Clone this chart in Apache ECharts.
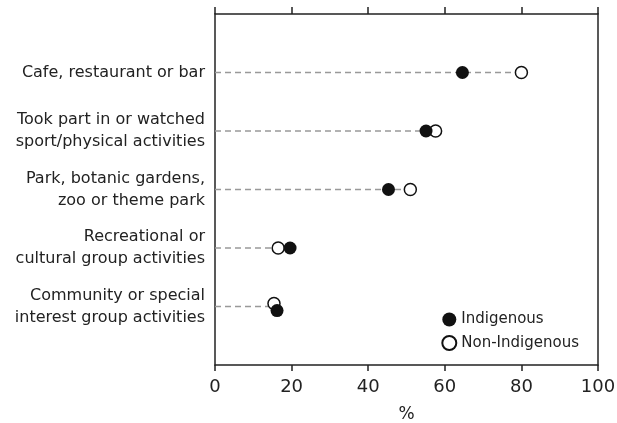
<!DOCTYPE html>
<html>
<head>
<meta charset="utf-8">
<script src="https://cdn.jsdelivr.net/npm/echarts@6/dist/echarts.min.js"></script>
<style>
  html, body { margin: 0; padding: 0; background: #fff; }
  #chart { width: 617px; height: 423px; }
</style>
</head>
<body>
<div id="chart"></div>
<script>
// categories, top to bottom
var categories = [
  'Cafe, restaurant or bar',
  'Took part in or watched\nsport/physical activities',
  'Park, botanic gardens,\nzoo or theme park',
  'Recreational or\ncultural group activities',
  'Community or special\ninterest group activities'
];
// row positions (1 = top row); small offsets where the dots are nudged apart
var indigenousRow = [1, 2, 3, 4, 5.07];
var nonIndigenousRow = [1, 2, 3, 4, 4.95];
// values, %
var indigenous = [64.6, 55.1, 45.3, 19.6, 16.2];
var nonIndigenous = [80.0, 57.6, 51.0, 16.5, 15.4];
var xTicks = [0, 20, 40, 60, 80, 100];

var font = 'DejaVu Sans';

var indData = indigenous.map(function (v, i) { return [v, indigenousRow[i]]; });
var nonData = nonIndigenous.map(function (v, i) { return [v, nonIndigenousRow[i]]; });
// dashed leader runs from 0 to the larger of the two values
var leaderData = categories.map(function (c, i) {
  return [Math.max(indigenous[i], nonIndigenous[i]), i + 1];
});

var chart = echarts.init(document.getElementById('chart'));
var option = {
  animation: false,
  textStyle: { fontFamily: font },
  grid: { left: 215, right: 19, top: 14, bottom: 58, containLabel: false, outerBoundsMode: 'none' },
  legend: {
    orient: 'vertical',
    right: 33,
    top: 307,
    itemWidth: 14,
    itemHeight: 14,
    itemGap: 8,
    textStyle: { fontFamily: font, fontSize: 15, color: '#222' },
    data: ['Indigenous', 'Non-Indigenous']
  },
  xAxis: [{
    type: 'value',
    min: 0, max: 100, interval: 20,
    position: 'bottom',
    name: '%',
    nameLocation: 'middle',
    nameGap: 41,
    nameTextStyle: { fontFamily: font, fontSize: 17, color: '#222' },
    axisLine: { show: true, onZero: false, lineStyle: { color: '#222', width: 1.5 } },
    axisTick: { show: true, length: 6, lineStyle: { color: '#222', width: 1.5 } },
    axisLabel: {
      fontFamily: font, fontSize: 18, color: '#222', margin: 13,
      formatter: function (v) { return xTicks.indexOf(v) >= 0 ? String(v) : ''; }
    },
    splitLine: { show: false }
  }, {
    type: 'value',
    min: 0, max: 100, interval: 20,
    position: 'top',
    axisLine: { show: true, onZero: false, lineStyle: { color: '#222', width: 1.5 } },
    axisTick: { show: true, length: 7, lineStyle: { color: '#222', width: 1.5 } },
    axisLabel: { show: false },
    splitLine: { show: false }
  }],
  yAxis: [{
    type: 'value',
    min: 0, max: 6, interval: 1,
    inverse: true,
    position: 'left',
    axisLine: { show: true, onZero: false, lineStyle: { color: '#222', width: 1.5 } },
    axisTick: { show: false },
    axisLabel: {
      fontFamily: font, fontSize: 16, color: '#222', lineHeight: 22, margin: 10,
      align: 'right',
      formatter: function (v) { return categories[v - 1] || ''; }
    },
    splitLine: { show: false }
  }, {
    type: 'value',
    min: 0, max: 6, interval: 1,
    inverse: true,
    position: 'right',
    axisLine: { show: true, onZero: false, lineStyle: { color: '#222', width: 1.5 } },
    axisTick: { show: false },
    axisLabel: { show: false },
    splitLine: { show: false }
  }],
  series: [{
    type: 'custom',
    name: 'leader',
    silent: true,
    z: 1,
    data: leaderData,
    renderItem: function (params, api) {
      var a = api.coord([0, api.value(1)]);
      var b = api.coord([api.value(0), api.value(1)]);
      return {
        type: 'line',
        shape: { x1: a[0], y1: a[1], x2: b[0], y2: b[1] },
        style: { stroke: '#999', lineWidth: 1.3, lineDash: [6, 4] }
      };
    }
  }, {
    type: 'scatter',
    name: 'Non-Indigenous',
    z: 3,
    symbol: 'circle',
    symbolSize: 12,
    itemStyle: { color: '#fff', borderColor: '#111', borderWidth: 1.5, opacity: 1 },
    data: nonData
  }, {
    type: 'scatter',
    name: 'Indigenous',
    z: 4,
    symbol: 'circle',
    symbolSize: 13,
    itemStyle: { color: '#111', borderColor: '#111', borderWidth: 0, opacity: 1 },
    data: indData
  }]
};
chart.setOption(option);
</script>
</body>
</html>
